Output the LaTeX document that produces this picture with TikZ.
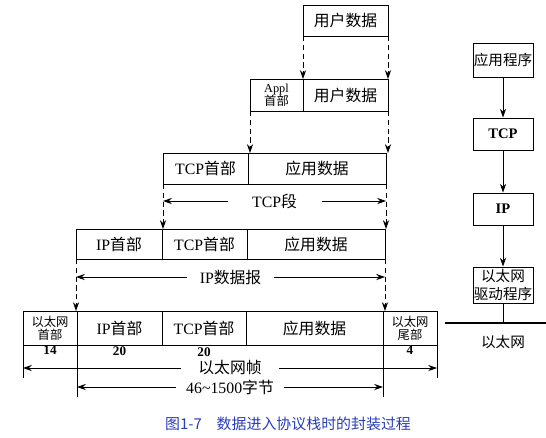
\documentclass[tikz,border=0pt]{standalone}
\usepackage{fontspec}
\setmainfont{Liberation Serif}
\newfontfamily\cjk{Noto Sans CJK SC}
\usetikzlibrary{arrows.meta,calc}
\newcommand\zh[1]{{\cjk #1}}
\definecolor{capblue}{RGB}{40,60,190}

\tikzset{
    feld/.style={draw, line width=0.5pt, inner sep=0pt, outer sep=0pt, anchor=west,
        minimum height=32*0.02cm, font=\fontsize{9}{10}\selectfont},
    klein/.style={font=\fontsize{7}{7.6}\selectfont\cjk, align=center},
    schicht/.style={draw, line width=0.5pt, inner sep=0pt, minimum width=60*0.02cm,
        minimum height=32*0.02cm, align=center, font=\fontsize{8.3}{10.5}\selectfont\cjk},
    spitze/.style={-{Stealth[length=5pt,width=3.5pt]}},
    strich/.style={spitze, line width=0.5pt, dash pattern=on 3pt off 2pt},
    mass/.style={{Stealth[length=5pt,width=3.5pt]}-{Stealth[length=5pt,width=3.5pt]}, line width=0.5pt},
    beschrift/.style={fill=white, inner ysep=1pt, font=\fontsize{9}{10}\selectfont},
    zahl/.style={font=\fontsize{7.5}{8}\selectfont\bfseries, inner sep=0.5pt}
}

\begin{document}
\begin{tikzpicture}[x=0.02cm, y=-0.02cm]
    \useasboundingbox (0,0) rectangle (546,437);
    % Zeilen
    \path node[feld, minimum width=85*0.02cm, minimum height=31*0.02cm] (U1) at (303,20.5) {\zh{用户数据}};
    \path node[feld, minimum width=53*0.02cm, klein] (A2) at (250,95) {{\rmfamily Appl}\\首部}
        node[feld, minimum width=85*0.02cm] (U2) at (A2.east) {\zh{用户数据}};
    \path node[feld, minimum width=85*0.02cm, minimum height=31*0.02cm] (T3) at (163,168.5) {TCP\zh{首部}}
        node[feld, minimum width=138*0.02cm, minimum height=31*0.02cm] (D3) at (T3.east) {\zh{应用数据}};
    \path node[feld, minimum width=86*0.02cm, minimum height=30*0.02cm] (I4) at (76,244) {IP\zh{首部}}
        node[feld, minimum width=85*0.02cm, minimum height=30*0.02cm] (T4) at (I4.east) {TCP\zh{首部}}
        node[feld, minimum width=138*0.02cm, minimum height=30*0.02cm] (D4) at (T4.east) {\zh{应用数据}};
    \path node[feld, minimum width=54*0.02cm, minimum height=34*0.02cm, klein,
            label={[zahl]below:14}] (E5) at (23,328) {以太网\\首部}
        node[feld, minimum width=85*0.02cm, minimum height=34*0.02cm,
            label={[zahl]below:20}] (I5) at (E5.east) {IP\zh{首部}}
        node[feld, minimum width=84*0.02cm, minimum height=34*0.02cm,
            label={[zahl, yshift=-1pt]below:20}] (T5) at (I5.east) {TCP\zh{首部}}
        node[feld, minimum width=137*0.02cm, minimum height=34*0.02cm] (D5) at (T5.east) {\zh{应用数据}}
        node[feld, minimum width=54*0.02cm, minimum height=34*0.02cm, klein,
            label={[zahl]below:4}] (F5) at (D5.east) {以太网\\尾部};
    % Kapselung
    \draw[strich] (U1.south west) -- (U1.south west |- U2.north);
    \draw[strich] (U1.south east) -- (U1.south east |- U2.north);
    \draw[strich] (A2.south west) -- (A2.south west |- T3.north);
    \draw[strich] (U2.south east) -- (U2.south east |- T3.north);
    \draw[strich] (T3.south west) -- (T3.south west |- I4.north);
    \draw[strich] (D3.south east) -- (D3.south east |- I4.north);
    \draw[strich] (I4.south west) -- (I4.south west |- E5.north);
    \draw[strich] (D4.south east) -- (D4.south east |- E5.north);
    % Laengen
    \draw[mass] ($(T3.south west)+(0,17)$) -- node[beschrift, inner xsep=14pt] {TCP\zh{段}} ($(D3.south east)+(0,17)$);
    \draw[mass] ($(I4.south west)+(0,18)$) -- node[beschrift, inner xsep=7pt] {IP\zh{数据报}} ($(D4.south east)+(0,18)$);
    \draw[line width=0.5pt] (E5.south west) -- ++(0,33);
    \draw[line width=0.5pt] (F5.south east) -- ++(0,33);
    \draw[line width=0.5pt] (I5.south west) -- ++(0,52);
    \draw[line width=0.5pt] (F5.south west) -- ++(0,52);
    \draw[mass] ($(E5.south west)+(0,23)$) -- node[beschrift, inner xsep=10pt] {\zh{以太网帧}} ($(F5.south east)+(0,23)$);
    \draw[mass] ($(I5.south west)+(0,42)$) -- node[beschrift, inner xsep=6pt] {46\textasciitilde1500\zh{字节}} ($(F5.south west)+(0,42)$);
    % Protokollstapel
    \path node[schicht, minimum height=34*0.02cm] (APP) at (503,60) {应用程序}
        node[schicht] (TCP) at (503,134) {\rmfamily\bfseries TCP}
        node[schicht] (IP) at (503,209) {\rmfamily\bfseries IP}
        node[schicht, minimum height=36*0.02cm] (ETH) at (503,285) {以太网\\驱动程序};
    \draw[spitze, line width=0.5pt] (APP) -- (TCP);
    \draw[spitze, line width=0.5pt] (TCP) -- (IP);
    \draw[spitze, line width=0.5pt] (IP) -- (ETH);
    \coordinate (NL) at (445,323);
    \coordinate (NR) at (546,323);
    \draw[line width=1.3pt] (NL) -- (NR);
    \draw[line width=0.5pt] (ETH.south) -- (ETH.south |- NL);
    \path node[font=\fontsize{8.3}{10}\selectfont\cjk] (NET) at (503,342) {以太网};
    % Bildunterschrift
    \path node[font=\fontsize{8.5}{10}\selectfont\cjk, text=capblue] (CAP) at (288,424) {图1-7\quad 数据进入协议栈时的封装过程};
\end{tikzpicture}
\end{document}
